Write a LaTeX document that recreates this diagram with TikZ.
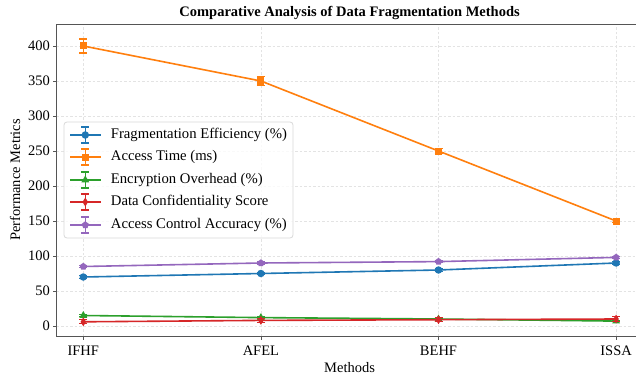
\documentclass[tikz,border=0pt]{standalone}
\usepackage{fontspec}
\setmainfont{Liberation Serif}
\usetikzlibrary{shapes.geometric}
\definecolor{cblue}{HTML}{1F77B4}
\definecolor{corange}{HTML}{FF7F0E}
\definecolor{cgreen}{HTML}{2CA02C}
\definecolor{cred}{HTML}{D62728}
\definecolor{cpurple}{HTML}{9467BD}
\definecolor{spine}{HTML}{555555}
\tikzset{
  mk/.style={inner sep=0pt, outer sep=0pt, fill=#1, draw=none},
  mcirc/.style={mk=#1, circle, minimum size=7.5pt},
  msq/.style={mk=#1, rectangle, minimum size=7pt},
  mtri/.style={mk=#1, regular polygon, regular polygon sides=3, minimum size=9pt},
  mdia/.style={mk=#1, diamond, minimum width=5.5pt, minimum height=9pt},
  mpent/.style={mk=#1, regular polygon, regular polygon sides=5, minimum size=7.5pt},
  series/.style={line width=1.6pt, draw=#1, line join=round},
  ebar/.style={line width=1.1pt, draw=#1},
  gridline/.style={draw=gray!22, line width=0.6pt, dash pattern=on 2.5pt off 2pt},
  tick/.style={draw=spine, line width=0.8pt},
  lbl/.style={font=\fontsize{14.5}{17}\selectfont, inner sep=0pt},
  legtxt/.style={font=\fontsize{14.7}{17}\selectfont, inner sep=0pt, anchor=west},
}
\newcommand{\errbar}[4]{% color, x, y, err
  \draw[ebar=#1] (#2,#3-#4) -- (#2,#3+#4);
  \draw[ebar=#1] (#2,#3-#4) ++(-4pt,0) -- ++(8pt,0);
  \draw[ebar=#1] (#2,#3+#4) ++(-4pt,0) -- ++(8pt,0);
}
\begin{document}
\begin{tikzpicture}[x=1pt,y=1pt]
\useasboundingbox (0,0) rectangle (636,378);
\fill[white] (0,0) rectangle (636,378);
\begin{scope}
\clip (0,0) rectangle (636,378);
% grid
\foreach \v in {0,50,...,400} \draw[gridline] (56.7,52+0.7*\v) -- (642.6,52+0.7*\v);
\foreach \i in {0,1,2,3} \draw[gridline] (83.3+177.6*\i,42) -- (83.3+177.6*\i,353.7);
% spines
\coordinate (axBL) at (56.7,42);
\coordinate (axTL) at (56.7,353.7);
\coordinate (axBR) at (642.6,42);
\coordinate (axTR) at (642.6,353.7);
\draw[spine, line width=1pt] (axBR) -- (axBL) -- (axTL) -- (axTR);
% y ticks
\foreach \v in {0,50,...,400} {
  \draw[tick] (53,52+0.7*\v) -- (56.7,52+0.7*\v);
  \node[lbl, anchor=east] (yt\v) at (50,52+0.7*\v) {\v};
}
% x ticks
\foreach \i/\n in {0/IFHF,1/AFEL,2/BEHF,3/ISSA} {
  \draw[tick] (83.3+177.6*\i,38.5) -- (83.3+177.6*\i,42);
  \node[lbl, anchor=base] (xt\i) at (83.3+177.6*\i,23) {\n};
}
% data
\begin{scope}[shift={(83.3,52)}, x=177.6pt, y=0.7pt]
  % blue
  \foreach \i/\v in {0/70,1/75,2/80,3/90} \coordinate (b\i) at (\i,\v);
  \draw[series=cblue] (b0) -- (b1) -- (b2) -- (b3);
  \foreach \i/\v in {0/70,1/75,2/80,3/90} {\errbar{cblue}{\i}{\v}{2}}
  \foreach \i in {0,...,3} \node[mcirc=cblue] at (b\i) {};
  % orange
  \foreach \i/\v in {0/400,1/350,2/250,3/150} \coordinate (o\i) at (\i,\v);
  \draw[series=corange] (o0) -- (o1) -- (o2) -- (o3);
  \foreach \i/\v/\e in {0/400/10,1/350/7,2/250/4,3/150/2} {\errbar{corange}{\i}{\v}{\e}}
  \foreach \i in {0,...,3} \node[msq=corange] at (o\i) {};
  % green
  \foreach \i/\v in {0/15,1/12,2/10,3/7} \coordinate (g\i) at (\i,\v);
  \draw[series=cgreen] (g0) -- (g1) -- (g2) -- (g3);
  \foreach \i/\v in {0/15,1/12,2/10,3/7} {\errbar{cgreen}{\i}{\v}{1}}
  \foreach \i in {0,...,3} \node[mtri=cgreen] at (g\i) {};
  % red
  \foreach \i/\v in {0/6,1/8,2/9,3/10} \coordinate (r\i) at (\i,\v);
  \draw[series=cred] (r0) -- (r1) -- (r2) -- (r3);
  \foreach \i/\v in {0/6,1/8,2/9,3/10} {\errbar{cred}{\i}{\v}{3}}
  \foreach \i in {0,...,3} \node[mdia=cred] at (r\i) {};
  % purple
  \foreach \i/\v in {0/85,1/90,2/92,3/98} \coordinate (p\i) at (\i,\v);
  \draw[series=cpurple] (p0) -- (p1) -- (p2) -- (p3);
  \foreach \i/\v in {0/85,1/90,2/92,3/98} {\errbar{cpurple}{\i}{\v}{1.5}}
  \foreach \i in {0,...,3} \node[mpent=cpurple] at (p\i) {};
\end{scope}
% legend
\draw[draw=gray!30, fill=white, fill opacity=0.8, rounded corners=3pt, line width=0.8pt] (64,140) rectangle (293,256);
\foreach \y/\c/\m/\t in {243/cblue/mcirc/{Fragmentation Efficiency (\%)},221/corange/msq/{Access Time (ms)},198/cgreen/mtri/{Encryption Overhead (\%)},176/cred/mdia/{Data Confidentiality Score},153/cpurple/mpent/{Access Control Accuracy (\%)}} {
  \draw[series=\c] (70,\y) -- (100.7,\y);
  \draw[ebar=\c] (85.3,\y-8) -- (85.3,\y+8);
  \draw[ebar=\c] (81.3,\y-8) -- (89.3,\y-8);
  \draw[ebar=\c] (81.3,\y+8) -- (89.3,\y+8);
  \node[\m=\c] at (85.3,\y) {};
  \node[legtxt] at (110.7,\y) {\t};
}
% labels
\node[lbl, font=\fontsize{14.5}{17}\selectfont\bfseries] (title) at (349.6,365) {Comparative Analysis of Data Fragmentation Methods};
\node[lbl] (xlabel) at (349.6,10) {Methods};
\node[lbl, rotate=90] (ylabel) at (15,198) {Performance Metrics};
\end{scope}
\end{tikzpicture}
\end{document}
